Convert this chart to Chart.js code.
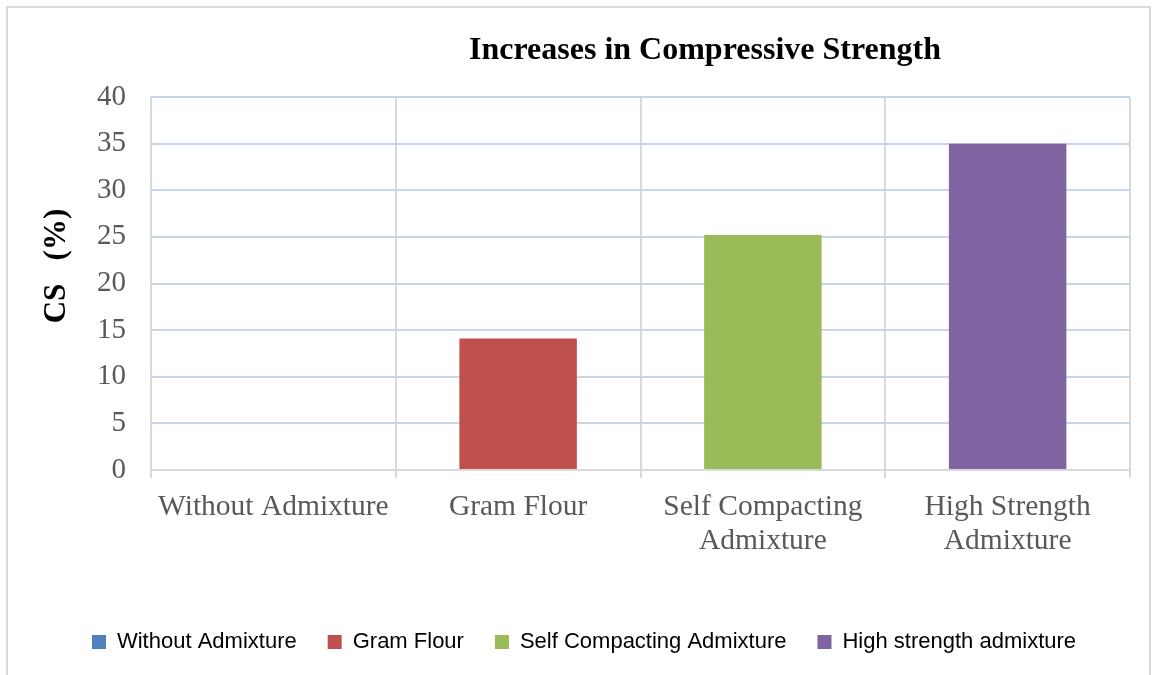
<!DOCTYPE html>
<html>
<head>
<meta charset="utf-8">
<script src="https://cdn.jsdelivr.net/npm/chart.js@4/dist/chart.umd.min.js"></script>
<style>
  body { margin: 0; background: #fff; }
  .wrap { position: relative; width: 1152px; height: 675px; overflow: hidden; }
  .frame { position: absolute; left: 6px; top: 6px; width: 1141px; height: 720px;
           border: 2px solid #d9d9d9; border-bottom: none; }
  canvas { position: absolute; left: 0; top: 0; }
</style>
</head>
<body>
<div class="wrap">
  <div class="frame"></div>
  <canvas id="chart" width="1152" height="675"></canvas>
</div>
<script>
// data
const categories = [["Without Admixture"], ["Gram Flour"], ["Self Compacting", "Admixture"], ["High Strength", "Admixture"]];
const legendNames = ["Without Admixture", "Gram Flour", "Self Compacting Admixture", "High strength admixture"];
const values = [0, 14.1, 25.2, 35];
const colors = ["#4f81bd", "#c0504d", "#9bbb59", "#8064a2"];
const yTicks = [0, 5, 10, 15, 20, 25, 30, 35, 40];

const serif = "'Liberation Serif', 'Times New Roman', serif";

// titre + titre de l'axe Y dessinés à la main (positions de l'original)
const titlePlugin = {
  id: "customTitle",
  afterDraw(chart) {
    const c = chart.ctx;
    c.save();
    c.fillStyle = "#000";
    c.textAlign = "center";
    c.textBaseline = "middle";
    c.font = "bold 32px " + serif;
    c.fillText("Increases in Compressive Strength", 705, 51);
    c.translate(57, 266);
    c.rotate(-Math.PI / 2);
    c.font = "bold 31px " + serif;
    c.fillText("CS   (%)", 0, 0);
    c.restore();
  }
};

new Chart(document.getElementById("chart").getContext("2d"), {
  type: "bar",
  data: {
    labels: categories,
    datasets: [{
      label: "CS",
      data: values,
      backgroundColor: colors,
      barPercentage: 0.48,
      categoryPercentage: 1
    }]
  },
  options: {
    responsive: false,
    animation: false,
    layout: { padding: { top: 97, left: 38, right: 22, bottom: 12 } },
    scales: {
      x: {
        grid: { color: "#d9d9d9", lineWidth: 2, offset: true, tickLength: 8 },
        border: { color: "#d9d9d9", width: 2 },
        ticks: { color: "#595959", font: { family: serif, size: 29.5, lineHeight: 1.15 }, padding: 12, maxRotation: 0 },
        afterFit(scale) { scale.height = 130; }
      },
      y: {
        min: 0,
        max: 40,
        afterBuildTicks(scale) { scale.ticks = yTicks.map(v => ({ value: v })); },
        grid: { color: "#c6d5ea", lineWidth: 2, drawTicks: false },
        border: { color: "#d9d9d9", width: 2 },
        ticks: { color: "#595959", font: { family: serif, size: 29 }, padding: 25 },
        afterFit(scale) { scale.width = 113; }
      }
    },
    plugins: {
      title: { display: false },
      tooltip: { enabled: false },
      legend: {
        position: "bottom",
        labels: {
          color: "#595959",
          font: { family: "'Liberation Sans', Arial, sans-serif", size: 22 },
          boxWidth: 14,
          boxHeight: 14,
          padding: 31,
          generateLabels() {
            return legendNames.map((n, i) => ({
              text: n, fillStyle: colors[i], strokeStyle: colors[i], lineWidth: 0, index: i
            }));
          }
        }
      }
    }
  },
  plugins: [titlePlugin]
});
</script>
</body>
</html>
